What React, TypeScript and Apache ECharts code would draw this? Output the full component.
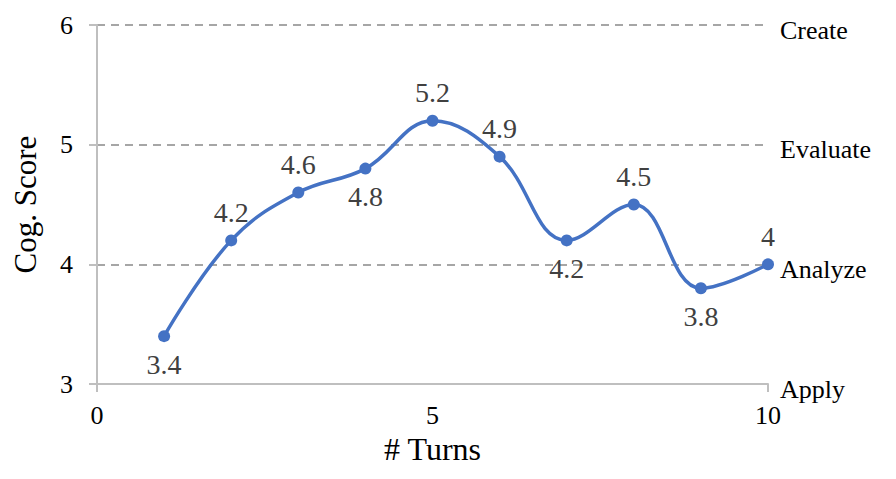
import React, { useEffect, useRef } from "react";
import * as echarts from "echarts";

const turns = [1, 2, 3, 4, 5, 6, 7, 8, 9, 10];
const scores = [3.4, 4.2, 4.6, 4.8, 5.2, 4.9, 4.2, 4.5, 3.8, 4];
const labelPos = ["bottom", "top", "top", "bottom", "top", "top", "bottom", "top", "bottom", "top"];
const levelNames: Record<number, string> = { 3: "Apply", 4: "Analyze", 5: "Evaluate", 6: "Create" };

const FONT = "Liberation Serif";

export default function App() {
  const ref = useRef<HTMLDivElement>(null);
  useEffect(() => {
    if (!ref.current) return;
    const chart = echarts.init(ref.current, undefined, { renderer: "svg" });
    chart.setOption({
      animation: false,
      textStyle: { fontFamily: FONT },
      grid: { left: 89, right: 120, top: 17, bottom: 87, containLabel: false, outerBoundsMode: "none" },
      xAxis: {
        type: "value",
        min: 0,
        max: 10,
        interval: 5,
        name: "# Turns",
        nameLocation: "middle",
        nameGap: 49,
        nameTextStyle: { fontFamily: FONT, fontSize: 32, color: "#000" },
        axisLine: { show: true, lineStyle: { color: "#bfbfbf", width: 2 } },
        axisTick: { show: true, length: 8, lineStyle: { color: "#bfbfbf", width: 2 }, customValues: [0, 10] },
        axisLabel: { fontFamily: FONT, fontSize: 26, color: "#000", margin: 18 },
        splitLine: { show: false },
      },
      yAxis: [
        {
          type: "value",
          min: 3,
          max: 6,
          interval: 1,
          name: "Cog. Score",
          nameLocation: "middle",
          nameGap: 56,
          nameTextStyle: { fontFamily: FONT, fontSize: 31, color: "#000" },
          axisLine: { show: true, lineStyle: { color: "#bfbfbf", width: 2 } },
          axisTick: { show: true, length: 8, inside: false, lineStyle: { color: "#bfbfbf", width: 2 } },
          axisLabel: { fontFamily: FONT, fontSize: 26, color: "#000", margin: 24 },
          splitLine: { show: true, lineStyle: { color: "#a6a6a6", width: 2, type: [8, 6] } },
        },
        {
          type: "value",
          min: 3,
          max: 6,
          interval: 1,
          position: "right",
          axisLine: { show: false },
          axisTick: { show: false },
          splitLine: { show: false },
          axisLabel: {
            fontFamily: FONT,
            fontSize: 26,
            color: "#000",
            margin: 12,
            verticalAlign: "top",
            lineHeight: 10,
            formatter: (v: number) => levelNames[v] ?? "",
          },
        },
      ],
      series: [
        {
          type: "line",
          data: turns.map((t, i) => ({
            value: [t, scores[i]],
            label: { position: labelPos[i] },
          })),
          smooth: 0.4,
          symbol: "circle",
          symbolSize: 12,
          itemStyle: { color: "#4472C4" },
          lineStyle: { color: "#4472C4", width: 3.5 },
          label: {
            show: true,
            fontFamily: FONT,
            fontSize: 28,
            color: "#404040",
            distance: 8,
            formatter: (p: any) => String(p.value[1]),
          },
        },
      ],
    });
    return () => chart.dispose();
  }, []);
  return <div ref={ref} style={{ width: 880, height: 463 }} />;
}
